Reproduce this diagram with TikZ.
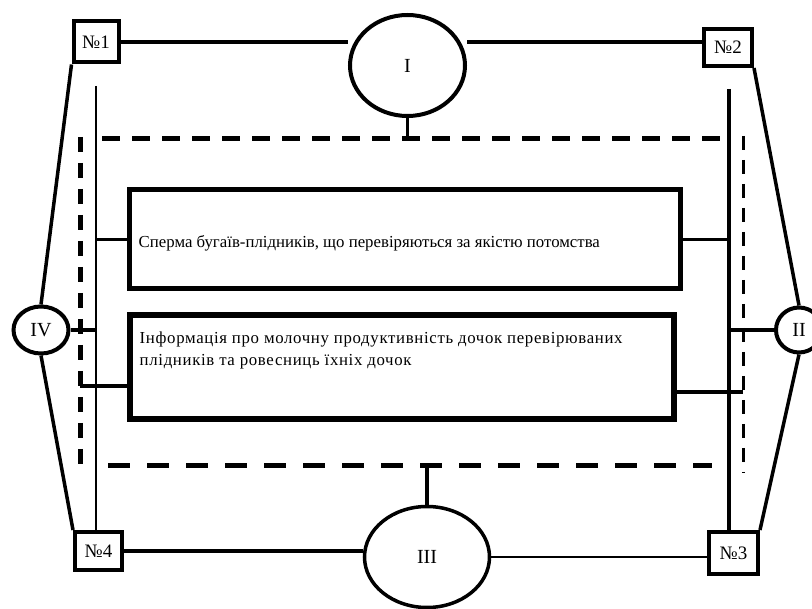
\documentclass[tikz,border=0pt]{standalone}
\usepackage{fontspec}
\setmainfont{Liberation Serif}
\usetikzlibrary{shapes.geometric}
\begin{document}
\begin{tikzpicture}[x=1pt,y=-1pt,
  numbox/.style={draw,line width=4pt,inner sep=0pt,font=\fontsize{19}{21}\selectfont},
  roman/.style={draw,ellipse,line width=4pt,inner sep=0pt,font=\fontsize{20}{22}\selectfont},
  infobox/.style={draw,inner sep=0pt},
  infotext/.style={inner sep=0pt,font=\fontsize{16.8}{22}\selectfont,align=left},
  conn/.style={line width=3.5pt},
  thin/.style={line width=2.5pt},
  bigdash/.style={line width=5pt,dash pattern=on 18pt off 12pt}
]
\useasboundingbox (0,0) rectangle (812,609);
\begin{scope}
\clip (0,0) rectangle (812,609);
% numbered boxes
\node[numbox,minimum width=45pt,minimum height=41pt] (n1) at (96,42) {№1};
\node[numbox,minimum width=48pt,minimum height=37pt] (n2) at (728,47.5) {№2};
\node[numbox,minimum width=49pt,minimum height=42pt] (n3) at (733.5,553) {№3};
\node[numbox,minimum width=47pt,minimum height=38pt] (n4) at (98.5,551) {№4};
% ellipses
\node[roman,minimum width=115pt,minimum height=101pt] (I) at (407.5,65.5) {I};
\node[roman,minimum width=46pt,minimum height=45pt] (II) at (799,330) {II};
\node[roman,minimum width=125pt,minimum height=101pt,line width=3.5pt] (III) at (427,557) {III};
\node[roman,minimum width=55pt,minimum height=47pt] (IV) at (41,330) {IV};
% information boxes
\node[infobox,line width=5pt,minimum width=551pt,minimum height=99pt] (b1) at (404.5,239.5) {};
\node[infobox,line width=6pt,minimum width=544pt,minimum height=104pt] (b2) at (401.5,367.5) {};
\node[infotext,anchor=west] (t1) at ([xshift=12pt,yshift=-4pt]b1.west) {Сперма бугаїв-плідників, що перевіряються за якістю потомства};
\node[infotext,anchor=north west] (t2) at ([xshift=13pt,yshift=-19pt]b2.north west) {\addfontfeatures{LetterSpace=4}Інформація про молочну продуктивність дочок перевірюваних\\\addfontfeatures{LetterSpace=4}плідників та ровесниць їхніх дочок};
% helper coordinates
\coordinate (lvtop) at (96,86);
\coordinate (rvtop) at (729,89);
\coordinate (tdl) at (102,139);
\coordinate (tdr) at (720,139);
\coordinate (bdl) at (108,466);
\coordinate (bdr) at (712,466);
\coordinate (ldt) at (80,137);
\coordinate (ldb) at (80,468);
\coordinate (rdt) at (743,136);
\coordinate (rdb) at (743,473);
\coordinate (b2l) at ([yshift=-18.5pt]b2.west);
\coordinate (b2r) at ([yshift=-24.5pt]b2.east);
% dashed frame
\draw[bigdash] (tdl) -- (tdr);
\draw[line width=5pt,dash pattern=on 22pt off 17pt] (bdl) -- (bdr);
\draw[line width=5pt,dash pattern=on 15pt off 11pt] (ldt) -- (ldb);
\draw[line width=3pt,dash pattern=on 14pt off 10pt] (rdt) -- (rdb);
% solid verticals
\draw[thin] (lvtop) -- (lvtop |- n4.north);
\draw[conn] (rvtop) -- (rvtop |- n3.north);
% outer connectors
\draw[conn] (n1.east) -- (I.west |- n1.east);
\draw[conn] (I.east |- n1.east) -- (n2.west |- n1.east);
\draw[conn] (I.south) -- (I.south |- tdl);
\draw[conn] (n2.south east) -- (II.north);
\draw[conn] (II.south) -- (n3.north east);
\draw[thin] (III.east) -- (III.east -| n3.west);
\draw[conn,line width=4pt] (n4.east) -- (n4.east -| III.west);
\draw[conn] (III.north) -- (III.north |- bdl);
\draw[conn] (n4.north west) -- (IV.south);
\draw[conn] (IV.north) -- (n1.south west);
\draw[conn] (IV.east) -- (IV.east -| lvtop);
\draw[conn] (II.west) -- (II.west -| rvtop);
% box connectors
\draw[conn] (b1.west) -- (b1.west -| lvtop);
\draw[conn] (b1.east) -- (b1.east -| rvtop);
\draw[conn] (b2l) -- (b2l -| ldt);
\draw[conn] (b2r) -- (b2r -| rdt);
\end{scope}
\end{tikzpicture}
\end{document}
